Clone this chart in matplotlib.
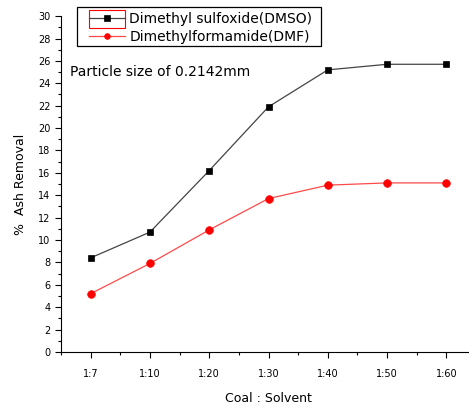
import matplotlib.pyplot as plt
from matplotlib.patches import Rectangle
from matplotlib.ticker import MultipleLocator

ratios = ['1:7', '1:10', '1:20', '1:30', '1:40', '1:50', '1:60']
dmso = [8.4, 10.7, 16.2, 21.9, 25.2, 25.7, 25.7]
dmf = [5.2, 7.9, 10.9, 13.7, 14.9, 15.1, 15.1]

fig = plt.figure(figsize=(4.69, 4.04), dpi=100)
ax = fig.add_axes([0.130, 0.129, 0.885, 0.831])

x = list(range(1, len(ratios) + 1))
ax.plot(x, dmso, color='#444444', linewidth=0.9, marker='s', markersize=5,
        markerfacecolor='black', markeredgecolor='black', markeredgewidth=0.5,
        label='Dimethyl sulfoxide(DMSO)')
ax.plot(x, dmf, color='#ff4a4a', linewidth=0.9, marker='o', markersize=5.5,
        markerfacecolor='red', markeredgecolor='red', markeredgewidth=0.5,
        label='Dimethylformamide(DMF)')

ax.set_xlim(0.5, 7.5)
ax.set_ylim(0, 30)
ax.set_xticks(x)
ax.set_xticklabels(ratios)
ax.xaxis.set_minor_locator(MultipleLocator(0.5))
ax.yaxis.set_major_locator(MultipleLocator(2))
ax.yaxis.set_minor_locator(MultipleLocator(1))
ax.spines['top'].set_visible(False)
ax.spines['right'].set_visible(False)
ax.tick_params(axis='both', which='major', labelsize=7, length=4, width=0.8)
ax.tick_params(axis='both', which='minor', length=2.5, width=0.8)
ax.tick_params(axis='x', pad=8)

ax.set_xlabel('Coal : Solvent', fontsize=9, labelpad=10)
ax.set_ylabel('%  Ash Removal', fontsize=9, labelpad=8)

ax.text(0.65, 25.0, 'Particle size of 0.2142mm', fontsize=10, va='center')

leg = ax.legend(loc='upper left', bbox_to_anchor=(0.0675, 1.012), fontsize=10,
                frameon=False, handlelength=2.6, borderpad=0, labelspacing=0.25,
                handletextpad=0.3, markerscale=0.75, borderaxespad=0)

# legend frame and the red selection box round the first handle
fig.add_artist(Rectangle((77 / 469, 1 - 46 / 404), 244 / 469, 39 / 404,
                         transform=fig.transFigure, fill=False, edgecolor='black', linewidth=0.9))
fig.add_artist(Rectangle((89 / 469, 1 - 28 / 404), 36 / 469, 18 / 404,
                         transform=fig.transFigure, fill=False, edgecolor='red', linewidth=0.8))

fig.savefig('out.png', dpi=100)
